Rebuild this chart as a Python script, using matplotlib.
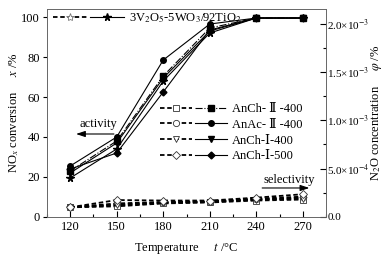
import matplotlib
matplotlib.use("Agg")
import matplotlib.pyplot as plt
from matplotlib.legend_handler import HandlerTuple
from matplotlib.ticker import MultipleLocator, FuncFormatter

plt.rcParams['font.family'] = ['Liberation Serif', 'DejaVu Serif', 'Noto Sans CJK SC']
plt.rcParams['mathtext.fontset'] = 'stix'
plt.rcParams['font.size'] = 9

# temperatures, degC
temps = [120, 150, 180, 210, 240, 270]

names = ['3V$_2$O$_5$-5WO$_3$/92TiO$_2$', 'AnCh- Ⅱ -400', 'AnAc- Ⅱ -400',
         'AnCh-Ⅰ-400', 'AnCh-Ⅰ-500']

# NOx conversion, %
act_v = [19.5, 34, 68, 92, 99.5, 99.5]
act_ch2 = [23, 38, 70.5, 94.5, 99.5, 99.5]
act_ac2 = [25.5, 40, 78.5, 96.5, 99.5, 99.5]
act_ch1_400 = [22, 37, 69.5, 93, 99.5, 99.5]
act_ch1_500 = [24, 32, 62.5, 93.5, 99.5, 99.5]

# N2O concentration, %
sel_v = [1.0e-4, 1.3e-4, 1.5e-4, 1.6e-4, 1.8e-4, 2.0e-4]
sel_ch2 = [1.0e-4, 1.1e-4, 1.4e-4, 1.5e-4, 1.7e-4, 1.8e-4]
sel_ac2 = [1.0e-4, 1.4e-4, 1.55e-4, 1.6e-4, 1.9e-4, 2.1e-4]
sel_ch1_400 = [1.0e-4, 1.2e-4, 1.45e-4, 1.55e-4, 1.8e-4, 1.9e-4]
sel_ch1_500 = [1.0e-4, 1.75e-4, 1.7e-4, 1.7e-4, 2.0e-4, 2.35e-4]

acts = [act_v, act_ch2, act_ac2, act_ch1_400, act_ch1_500]
sels = [sel_v, sel_ch2, sel_ac2, sel_ch1_400, sel_ch1_500]
markers = ['*', 's', 'o', 'v', 'D']
msizes = [5.5, 4.5, 4, 4.5, 3.5]
act_styles = ['-', '-.', '-', '-', '-']

fig = plt.figure(figsize=(3.91, 2.58), dpi=100)
ax = fig.add_axes([0.120, 0.159, 0.714, 0.806])
ax2 = ax.twinx()

act_lines = []
sel_lines = []
for i in range(5):
    l1, = ax.plot(temps, acts[i], color='black', ls=act_styles[i], lw=0.8,
                  marker=markers[i], ms=msizes[i], mfc='black', mec='black')
    ecol = '#777777' if i == 0 else '#333333'
    l2, = ax2.plot(temps, sels[i], color='black', ls=(0, (2.5, 1.5)), lw=1.3,
                   marker=markers[i], ms=msizes[i] + 0.5, mfc='white', mec=ecol, mew=0.6)
    act_lines.append(l1)
    sel_lines.append(l2)

ax.set_xlim(105, 285)
ax.set_ylim(0, 104)
ax2.set_ylim(0, 2.15e-3)
ax.set_xticks(temps)
ax.xaxis.set_minor_locator(MultipleLocator(15))
ax.set_yticks([0, 20, 40, 60, 80, 100])
ax2.yaxis.set_major_locator(MultipleLocator(5e-4))
ax2.yaxis.set_minor_locator(MultipleLocator(2.5e-4))

def sci(v, pos):
    if abs(v) < 1e-12:
        return '0.0'
    e = -3 if v >= 1e-3 - 1e-12 else -4
    return '%.1f×10$^{%d}$' % (v / 10.0 ** e, e)

ax2.yaxis.set_major_formatter(FuncFormatter(sci))

ax.tick_params(axis='x', which='major', direction='in', length=4, width=0.8, pad=3)
ax.tick_params(axis='x', which='minor', direction='in', length=2, width=0.8)
ax.tick_params(axis='y', which='major', direction='out', length=3, width=0.8, pad=2)
ax2.tick_params(axis='y', which='major', direction='in', length=4, width=0.8, pad=1,
                labelsize=8)
ax2.tick_params(axis='y', which='minor', direction='in', length=2, width=0.8)
for a in (ax, ax2):
    for s in a.spines.values():
        s.set_linewidth(0.6)
        s.set_color('#666666')

ax.set_xlabel('Temperature     $t$ /°C', labelpad=6)
ax.set_ylabel('NO$_x$ conversion     $x$ /%', labelpad=0)
ax2.set_ylabel('N$_2$O concentration     $\\varphi$ /%', labelpad=-1)

ax.annotate('', xy=(122, 41.5), xytext=(150, 41.5),
            arrowprops=dict(arrowstyle='-|>,head_length=0.6,head_width=0.2', color='black', lw=0.8))
ax.text(138, 43.5, 'activity', ha='center', va='bottom')
ax.annotate('', xy=(276, 14.5), xytext=(242, 14.5),
            arrowprops=dict(arrowstyle='-|>,head_length=0.6,head_width=0.2', color='black', lw=0.8))
ax.text(261, 15.5, 'selectivity', ha='center', va='bottom')

hm = {tuple: HandlerTuple(ndivide=None, pad=0.3)}
leg1 = ax2.legend([(sel_lines[0], act_lines[0])], [names[0]], handler_map=hm,
                  loc='upper left', bbox_to_anchor=(-0.01, 1.03), frameon=False,
                  handlelength=5.7, handletextpad=0.35, borderpad=0.2, numpoints=1)
ax2.add_artist(leg1)
ax2.legend([(sel_lines[i], act_lines[i]) for i in range(1, 5)], names[1:], handler_map=hm,
           loc='upper left', bbox_to_anchor=(0.375, 0.59), frameon=False,
           handlelength=5.3, handletextpad=0.4, labelspacing=0.3, borderpad=0.2, numpoints=1)

fig.savefig('out.png', dpi=100)
